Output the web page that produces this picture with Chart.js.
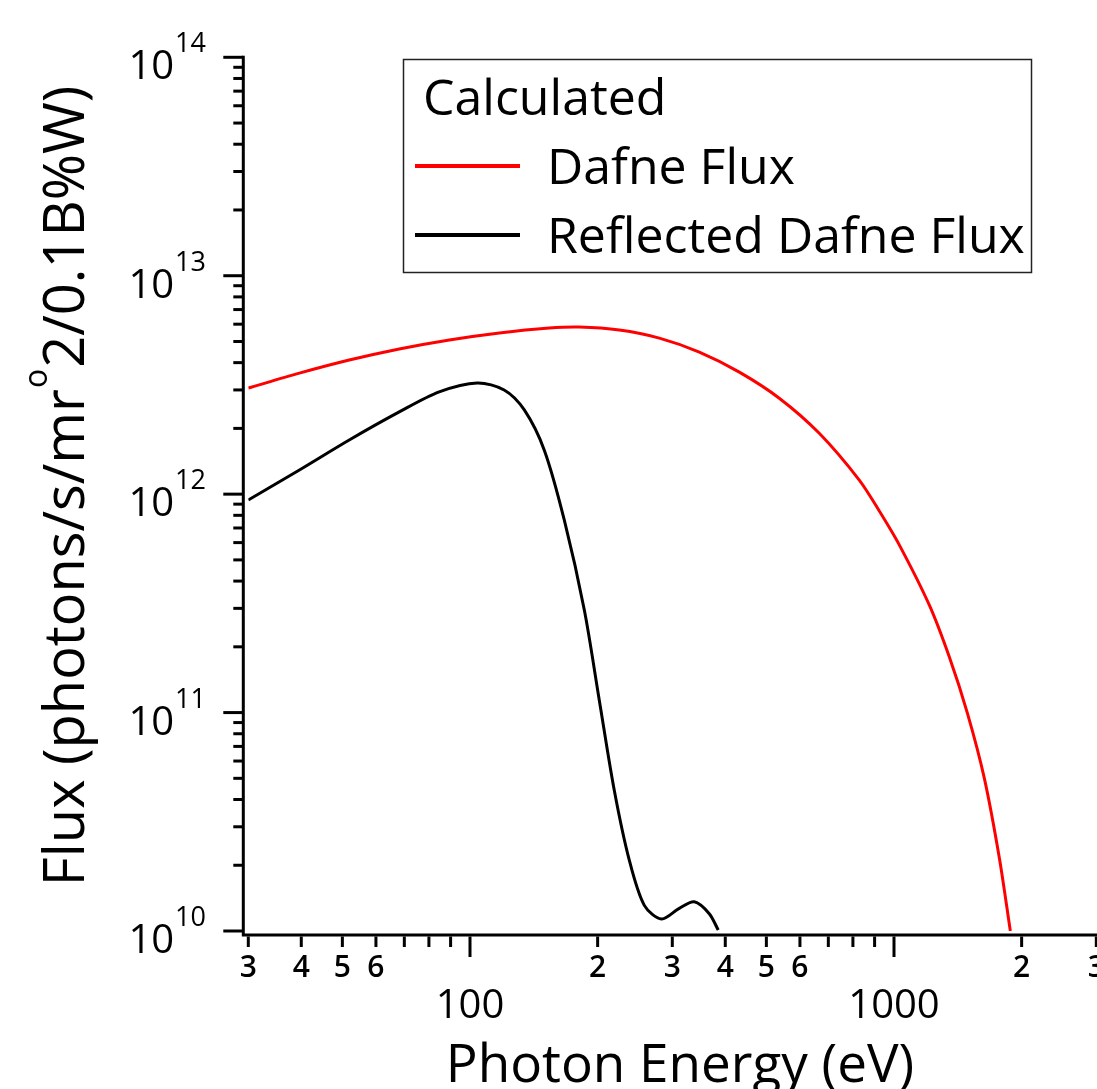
<!DOCTYPE html>
<html>
<head>
<meta charset="utf-8">
<title>Dafne Flux</title>
<script src="https://cdn.jsdelivr.net/npm/chart.js@4/dist/chart.umd.min.js"></script>
<style>
  html, body { margin: 0; padding: 0; background: #fff; overflow: hidden; }
  #wrap { width: 1120px; height: 1089px; }
</style>
</head>
<body>
<div id="wrap"><canvas id="flux" width="1120" height="1089"></canvas></div>
<script>
/* ---------- Data ---------- */
var dafneEnergy = [30, 39.6, 51.9, 68.1, 89.4, 117.3, 153.8, 181, 225, 279.6, 347.4, 431.7, 536.3, 666.4, 828.2, 923.3, 1029, 1211, 1350, 1489, 1633, 1772, 1881];
var dafneFlux = [3.06e12, 3.58e12, 4.11e12, 4.62e12, 5.08e12, 5.47e12, 5.76e12, 5.82e12, 5.64e12, 5.18e12, 4.47e12, 3.62e12, 2.75e12, 1.90e12, 1.16e12, 8.37e11, 5.86e11, 3.11e11, 1.80e11, 9.97e10, 5.01e10, 2.16e10, 1.0e10];

var reflEnergy = [30, 39.6, 51.9, 68.1, 84.6, 104, 120.4, 134.3, 149.7, 166.9, 186.1, 201.8, 218.9, 237.5, 257.7, 283, 311.6, 338, 366.7, 385];
var reflFlux = [9.4e11, 1.29e12, 1.77e12, 2.38e12, 2.94e12, 3.23e12, 3.0e12, 2.43e12, 1.59e12, 7.6e11, 2.94e11, 1.14e11, 4.41e10, 2.11e10, 1.31e10, 1.135e10, 1.27e10, 1.36e10, 1.2e10, 1.01e10];

var seriesLabels = ['Dafne Flux', 'Reflected Dafne Flux'];
var seriesColors = ['#ff0000', '#000000'];
var legendTitle = 'Calculated';
var xTitle = 'Photon Energy (eV)';
var yTitleParts = ['Flux (photons/s/mr', 'o', '2/0.1B%W)'];

var X_MIN = 30, X_MAX = 3000;
var Y_MIN = 1e10, Y_MAX = 1e14;

var FONT = "'Open Sans', 'DejaVu Sans', sans-serif";

function toPoints(xs, ys) {
  return xs.map(function (v, i) { return { x: v, y: ys[i] }; });
}

// 1..9 x 10^n between min and max, like Igor's log axis
function logTicks(min, max) {
  var out = [];
  for (var e = Math.floor(Math.log10(min)); e <= Math.ceil(Math.log10(max)); e++) {
    for (var s = 1; s <= 9; s++) {
      var v = s * Math.pow(10, e);
      if (v >= min * 0.999 && v <= max * 1.001) out.push({ value: v, sig: s, exp: e });
    }
  }
  return out;
}

/* ---------- Axes, labels and legend drawn Igor-style ---------- */
var igorAxes = {
  id: 'igorAxes',
  afterDraw: function (chart) {
    var ctx = chart.ctx;
    var a = chart.chartArea;
    var xs = chart.scales.x, ys = chart.scales.y;
    var axX = a.left - 5;       // y axis line sits a little left of the plot
    var axY = a.bottom + 4;     // x axis line sits a little below the plot

    ctx.save();
    ctx.strokeStyle = '#000';
    ctx.fillStyle = '#000';
    ctx.lineWidth = 3;
    ctx.lineCap = 'butt';

    // axis lines
    ctx.beginPath();
    ctx.moveTo(axX, a.top - 1.5);
    ctx.lineTo(axX, axY + 1.5);
    ctx.moveTo(axX - 1.5, axY);
    ctx.lineTo(chart.width, axY);
    ctx.stroke();

    // y ticks + labels
    logTicks(Y_MIN, Y_MAX).forEach(function (t) {
      var py = ys.getPixelForValue(t.value);
      var major = t.sig === 1;
      ctx.beginPath();
      ctx.moveTo(axX - (major ? 20 : 10), py);
      ctx.lineTo(axX, py);
      ctx.stroke();
      if (major) {
        ctx.textAlign = 'right';
        ctx.textBaseline = 'alphabetic';
        ctx.font = '500 27px ' + FONT;
        var expStr = String(t.exp);
        var ew = ctx.measureText(expStr).width;
        ctx.fillText(expStr, 206, py - 5);
        ctx.font = '500 40px ' + FONT;
        ctx.fillText('10', 206 - ew - 1, py + 22);
      }
    });

    // x ticks + labels
    logTicks(X_MIN, X_MAX).forEach(function (t) {
      var px = xs.getPixelForValue(t.value);
      var major = t.sig === 1;
      ctx.beginPath();
      ctx.moveTo(px, axY + 1.5);
      ctx.lineTo(px, axY + (major ? 22 : 12));
      ctx.stroke();
      ctx.textAlign = 'center';
      ctx.textBaseline = 'alphabetic';
      if (major) {
        ctx.font = '500 40px ' + FONT;
        ctx.fillText(String(Math.round(t.value)), px, 1018);
      } else if (t.sig <= 6) {
        ctx.font = '600 30px ' + FONT;
        ctx.fillText(String(t.sig), px, 977);
      }
    });

    // x title
    ctx.font = '500 53px ' + FONT;
    ctx.textAlign = 'center';
    ctx.fillText(xTitle, 680, 1082);

    // y title (rotated, with raised "o")
    ctx.save();
    ctx.translate(84, 487);
    ctx.rotate(-Math.PI / 2);
    ctx.textAlign = 'left';
    var big = '500 56px ' + FONT, small = '500 32px ' + FONT;
    ctx.font = big; var w0 = ctx.measureText(yTitleParts[0]).width;
    ctx.font = small; var w1 = ctx.measureText(yTitleParts[1]).width;
    ctx.font = big; var w2 = ctx.measureText(yTitleParts[2]).width;
    var sx = -(w0 + w1 + w2) / 2;
    ctx.font = big; ctx.fillText(yTitleParts[0], sx, 0);
    ctx.font = small; ctx.fillText(yTitleParts[1], sx + w0 + 1, -37);
    ctx.font = big; ctx.fillText(yTitleParts[2], sx + w0 + w1 + 2, 0);
    ctx.restore();

    // legend box
    ctx.lineWidth = 1.5;
    ctx.strokeStyle = '#222';
    ctx.strokeRect(403.5, 59.5, 628, 213);
    ctx.textAlign = 'left';
    ctx.font = '500 50px ' + FONT;
    ctx.fillText(legendTitle, 423, 115);
    var rows = [166, 235];
    chart.data.datasets.forEach(function (ds, i) {
      ctx.strokeStyle = ds.borderColor;
      ctx.lineWidth = 4;
      ctx.beginPath();
      ctx.moveTo(415, rows[i]);
      ctx.lineTo(520, rows[i]);
      ctx.stroke();
      ctx.fillStyle = '#000';
      ctx.fillText(ds.label, 547, rows[i] + 18);
    });
    ctx.restore();
  }
};

/* ---------- Chart ---------- */
new Chart(document.getElementById('flux').getContext('2d'), {
  type: 'line',
  data: {
    datasets: [
      { label: seriesLabels[0], data: toPoints(dafneEnergy, dafneFlux), borderColor: seriesColors[0], borderWidth: 3, pointRadius: 0, tension: 0.3, fill: false },
      { label: seriesLabels[1], data: toPoints(reflEnergy, reflFlux), borderColor: seriesColors[1], borderWidth: 3, pointRadius: 0, tension: 0.3, fill: false }
    ]
  },
  options: {
    responsive: false,
    animation: false,
    layout: { padding: { left: 248.3, right: 1120 - 1096.3, top: 57.3, bottom: 1089 - 931 } },
    plugins: { legend: { display: false }, tooltip: { enabled: false } },
    scales: {
      x: { type: 'logarithmic', min: X_MIN, max: X_MAX, display: false },
      y: { type: 'logarithmic', min: Y_MIN, max: Y_MAX, display: false }
    }
  },
  plugins: [igorAxes]
});
</script>
</body>
</html>
